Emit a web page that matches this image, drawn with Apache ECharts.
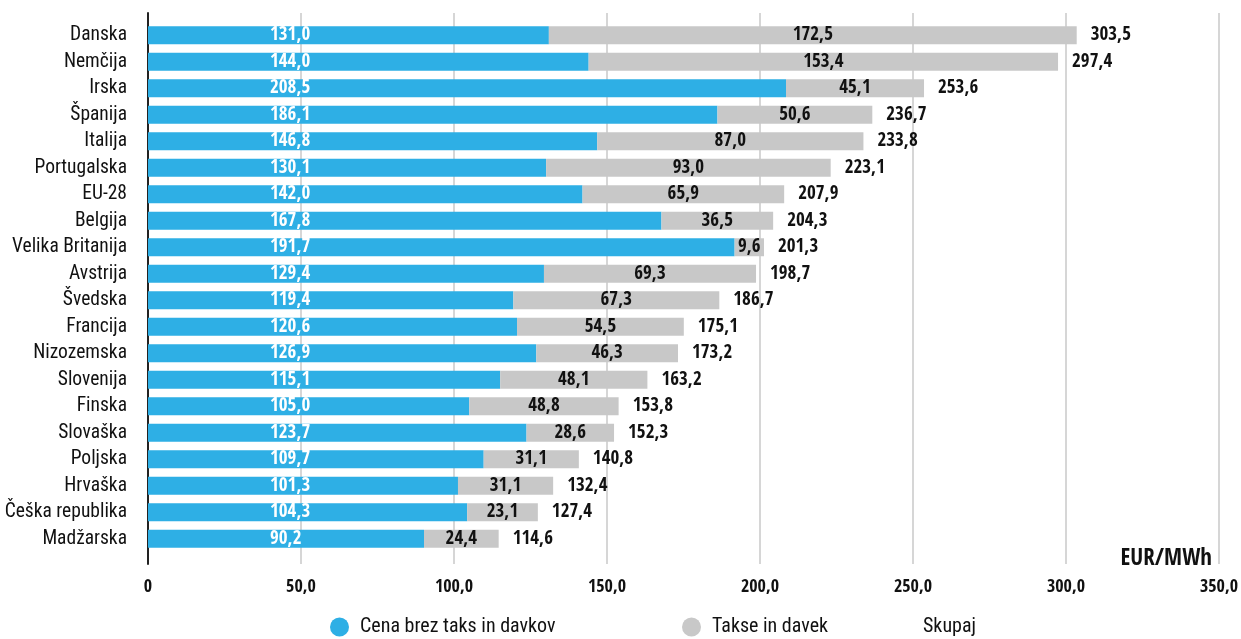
<!DOCTYPE html>
<html>
<head>
<meta charset="utf-8">
<script src="https://cdn.jsdelivr.net/npm/echarts@6/dist/echarts.min.js"></script>
<style>
  html, body { margin: 0; padding: 0; background: #fff; }
  #chart { width: 1241px; height: 639px; }
</style>
</head>
<body>
<div id="chart"></div>
<script>
const countries = ['Danska', 'Nemčija', 'Irska', 'Španija', 'Italija', 'Portugalska', 'EU-28', 'Belgija',
  'Velika Britanija', 'Avstrija', 'Švedska', 'Francija', 'Nizozemska', 'Slovenija', 'Finska', 'Slovaška',
  'Poljska', 'Hrvaška', 'Češka republika', 'Madžarska']
const priceNoTax = [131.0, 144.0, 208.5, 186.1, 146.8, 130.1, 142.0, 167.8, 191.7, 129.4, 119.4, 120.6,
  126.9, 115.1, 105.0, 123.7, 109.7, 101.3, 104.3, 90.2]
const taxes = [172.5, 153.4, 45.1, 50.6, 87.0, 93.0, 65.9, 36.5, 9.6, 69.3, 67.3, 54.5, 46.3, 48.1, 48.8,
  28.6, 31.1, 31.1, 23.1, 24.4]
const totals = [303.5, 297.4, 253.6, 236.7, 233.8, 223.1, 207.9, 204.3, 201.3, 198.7, 186.7, 175.1, 173.2,
  163.2, 153.8, 152.3, 140.8, 132.4, 127.4, 114.6]
const xTicks = [0, 50, 100, 150, 200, 250, 300, 350]

// bold text -> Open Sans Condensed (bold only), regular text -> Roboto Condensed
const BOLD = '"Open Sans Condensed", "Roboto Condensed", sans-serif'
const REG = '"Roboto Condensed", sans-serif'
const fmt = v => v.toFixed(1).replace('.', ',')

const myChart = echarts.init(document.getElementById('chart'))
const legendText = { fontFamily: REG, fontSize: 20, color: '#111', padding: [0, 0, 0, 6] }
myChart.setOption({
  textStyle: { fontFamily: REG },
  animation: false,
  title: {
    text: 'EUR/MWh',
    right: 29,
    top: 547,
    padding: 0,
    textStyle: { fontFamily: BOLD, fontSize: 23, fontWeight: 'bold', color: '#111' }
  },
  legend: [
    {
      data: ['Cena brez taks in davkov'],
      left: 330, top: 617, padding: 0,
      icon: 'circle', itemWidth: 19, itemHeight: 19,
      textStyle: legendText
    },
    {
      data: ['Takse in davek'],
      left: 682, top: 617, padding: 0,
      icon: 'circle', itemWidth: 19, itemHeight: 19,
      textStyle: legendText
    },
    {
      data: ['Skupaj'],
      left: 893, top: 617, padding: 0,
      icon: 'circle', itemWidth: 19, itemHeight: 19,
      textStyle: legendText
    }
  ],
  grid: [
    { left: 148, width: 1071, top: 13, height: 551, outerBoundsMode: 'none' },
    { left: 148, width: 1071, top: 22, height: 530, outerBoundsMode: 'none' }
  ],
  xAxis: [
    {
      gridIndex: 0, type: 'value', min: 0, max: 350, interval: 50,
      axisLine: { show: false }, axisTick: { show: false },
      splitLine: { show: true, lineStyle: { color: '#c8c8c8', width: 1.5 } },
      axisLabel: {
        margin: 14, fontSize: 18, fontWeight: 'bold', color: '#111', fontFamily: BOLD,
        formatter: v => xTicks.includes(v) ? (v === 0 ? '0' : fmt(v)) : ''
      }
    },
    { gridIndex: 1, type: 'value', min: 0, max: 350, show: false }
  ],
  yAxis: [
    {
      gridIndex: 0, type: 'value', min: 0, max: 1,
      axisLine: { show: true, lineStyle: { color: '#222', width: 2 } },
      axisTick: { show: false }, axisLabel: { show: false }, splitLine: { show: false }
    },
    {
      gridIndex: 1, type: 'category', data: countries, inverse: true,
      axisLine: { show: false }, axisTick: { show: false },
      axisLabel: { margin: 21, fontSize: 19.5, color: '#111', fontFamily: REG }
    }
  ],
  series: [
    {
      name: 'Cena brez taks in davkov', type: 'bar', stack: 'cena',
      xAxisIndex: 1, yAxisIndex: 1, barWidth: 18, data: priceNoTax,
      itemStyle: { color: '#2eafe5' },
      label: {
        show: true, position: [122, '50%'], align: 'left', verticalAlign: 'middle',
        color: '#fff', fontSize: 19, fontWeight: 'bold', fontFamily: BOLD,
        formatter: p => fmt(p.value)
      }
    },
    {
      name: 'Takse in davek', type: 'bar', stack: 'cena',
      xAxisIndex: 1, yAxisIndex: 1, barWidth: 18, data: taxes,
      itemStyle: { color: '#c8c8c8' },
      label: {
        show: true, position: 'inside',
        color: '#111', fontSize: 19, fontWeight: 'bold', fontFamily: BOLD,
        formatter: p => fmt(p.value)
      }
    },
    {
      name: 'Skupaj', type: 'bar', barGap: '-100%',
      xAxisIndex: 1, yAxisIndex: 1, barWidth: 18, data: totals, z: 1, silent: true,
      itemStyle: { color: 'rgba(0,0,0,0)' },
      label: {
        show: true, position: 'right', distance: 14,
        color: '#111', fontSize: 19, fontWeight: 'bold', fontFamily: BOLD,
        formatter: p => fmt(p.value)
      }
    }
  ]
})
</script>
</body>
</html>
